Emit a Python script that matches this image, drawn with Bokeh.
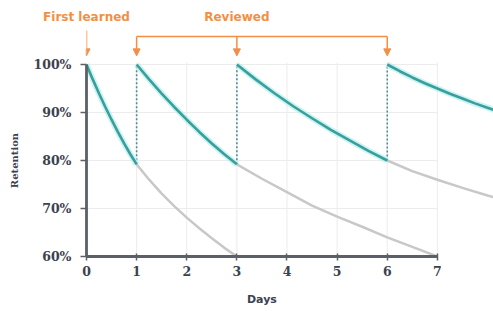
from bokeh.plotting import figure
from bokeh.models import Range1d, FixedTicker, Arrow, NormalHead, LinearAxis
from bokeh.embed import file_html
from bokeh.resources import INLINE

# ---- data ----
first_teal_days = [0, 0.125, 0.25, 0.375, 0.5, 0.625, 0.75, 0.875, 1]
first_teal_ret = [100, 96.9, 93.95, 91.15, 88.5, 85.95, 83.55, 81.3, 79.2]
first_gray_days = [1, 1.25, 1.5, 1.75, 2, 2.25, 2.5, 2.75, 3]
first_gray_ret = [79.2, 76.0, 73.1, 70.5, 68.1, 65.9, 63.8, 61.8, 60.0]

second_teal_days = [1, 1.25, 1.5, 1.75, 2, 2.25, 2.5, 2.75, 3]
second_teal_ret = [100, 96.9, 93.95, 91.15, 88.5, 85.95, 83.55, 81.3, 79.2]
second_gray_days = [3, 3.5, 4, 4.5, 5, 5.5, 6, 6.5, 7]
second_gray_ret = [79.2, 76.2, 73.4, 70.6, 68.3, 66.2, 64.0, 62.0, 60.0]

third_teal_days = [3, 3.375, 3.75, 4.125, 4.5, 4.875, 5.25, 5.625, 6]
third_teal_ret = [100, 96.9, 94.0, 91.3, 88.8, 86.4, 84.2, 82.0, 80.0]
third_gray_days = [6, 6.5, 7, 7.5, 8, 8.25]
third_gray_ret = [80.0, 77.8, 76.0, 74.3, 72.7, 72.0]

fourth_teal_days = [6, 6.25, 6.5, 6.75, 7, 7.25, 7.5, 7.75, 8, 8.25]
fourth_teal_ret = [100, 98.6, 97.3, 96.1, 95.0, 93.9, 92.9, 91.9, 91.0, 90.1]

review_days = [1, 3, 6]
review_low = [79.2, 79.2, 80.0]
review_top = [100, 100, 100]

day_ticks = [0, 1, 2, 3, 4, 5, 6, 7]
ret_ticks = [60, 70, 80, 90, 100]
ret_labels = ["60%", "70%", "80%", "90%", "100%"]

first_day = 0
annot_days = [0, 3]
annot_labels = ["First learned", "Reviewed"]
x_title = "Days"
x_title_day = 3.5
y_title = "Retention"
y_title_ret = 80
bracket_y = 105.83
arrow_start_first = 107.1
arrow_tip_y = 101.8

ORANGE = "#f28f45"
TEAL = "#3a9f9c"
GLOW = "#b4efed"
GRAY = "#c8c8c8"
AXIS = "#5b6068"
TXT = "#3c4150"

p = figure(width=493, height=311, output_backend="svg", toolbar_location=None,
           x_range=Range1d(0, 8.12), y_range=Range1d(60, 107.917),
           min_border_left=86, min_border_right=0, min_border_top=26,
           min_border_bottom=55)
p.outline_line_color = None
p.grid.visible = False

# faint grid limited to the data area
p.segment(x0=day_ticks, y0=[60] * len(day_ticks), x1=day_ticks, y1=[100.4] * len(day_ticks),
          line_color="#ececec", line_width=1)
p.segment(x0=[0] * len(ret_ticks), y0=ret_ticks, x1=[7] * len(ret_ticks), y1=ret_ticks,
          line_color="#ececec", line_width=1)

for xs, ys in [(first_gray_days, first_gray_ret), (second_gray_days, second_gray_ret),
               (third_gray_days, third_gray_ret)]:
    p.line(xs, ys, line_color=GRAY, line_width=2.5)

p.segment(x0=review_days, y0=review_low, x1=review_days, y1=review_top,
          line_color="#4a8f9a", line_width=1.6, line_dash="2 2")

for xs, ys in [(first_teal_days, first_teal_ret), (second_teal_days, second_teal_ret),
               (third_teal_days, third_teal_ret), (fourth_teal_days, fourth_teal_ret)]:
    p.line(xs, ys, line_color=GLOW, line_width=6, line_alpha=0.7)
    p.line(xs, ys, line_color=TEAL, line_width=2.6)

# orange arrows
p.add_layout(Arrow(end=NormalHead(size=7, fill_color=ORANGE, line_color=ORANGE),
                   x_start=first_day, y_start=arrow_start_first, x_end=first_day,
                   y_end=arrow_tip_y, line_color=ORANGE, line_width=1.5))
p.add_layout(Arrow(end=None, x_start=review_days[0], y_start=bracket_y,
                   x_end=review_days[-1], y_end=bracket_y, line_color=ORANGE, line_width=1.5))
for d in review_days:
    p.add_layout(Arrow(end=NormalHead(size=7, fill_color=ORANGE, line_color=ORANGE),
                       x_start=d, y_start=bracket_y, x_end=d, y_end=arrow_tip_y,
                       line_color=ORANGE, line_width=1.5))

# main axes
for ax in (p.xaxis[0], p.yaxis[0]):
    ax.axis_line_color = AXIS
    ax.axis_line_width = 2.8
    ax.major_tick_line_color = AXIS
    ax.major_tick_line_width = 1.5
    ax.minor_tick_line_color = None
    ax.major_label_text_font = "DejaVu Serif"
    ax.major_label_text_font_style = "bold"
    ax.major_label_text_font_size = "12.5px"
    ax.major_label_text_color = TXT

p.xaxis.ticker = FixedTicker(ticks=day_ticks)
p.xaxis.bounds = (0, 7)
p.xaxis.major_tick_in = 3
p.xaxis.major_tick_out = 4
p.xaxis.major_label_standoff = 5

p.yaxis.ticker = FixedTicker(ticks=ret_ticks)
p.yaxis.bounds = (60, 100)
p.yaxis.major_label_overrides = {t: l for t, l in zip(ret_ticks, ret_labels)}
p.yaxis.major_tick_in = 0
p.yaxis.major_tick_out = 6
p.yaxis.major_label_standoff = 9


def label_axis(ticks, labels, font, size, color, standoff, orientation="horizontal"):
    ax = LinearAxis(ticker=FixedTicker(ticks=ticks),
                    major_label_overrides={t: l for t, l in zip(ticks, labels)})
    ax.axis_line_color = None
    ax.major_tick_line_color = None
    ax.minor_tick_line_color = None
    ax.major_label_text_font = font
    ax.major_label_text_font_style = "bold"
    ax.major_label_text_font_size = size
    ax.major_label_text_color = color
    ax.major_label_standoff = standoff
    ax.major_label_orientation = orientation
    return ax


# top annotation texts
p.add_layout(label_axis(annot_days, annot_labels, "DejaVu Sans", "12px", ORANGE, -3), "above")
# x title
p.add_layout(label_axis([x_title_day], [x_title], "DejaVu Sans", "11px", TXT, 8), "below")
# y title
p.add_layout(label_axis([y_title_ret], [y_title], "DejaVu Serif", "10px", TXT, 4, "vertical"),
             "left")

open("out.html", "w").write(file_html(p, INLINE))
